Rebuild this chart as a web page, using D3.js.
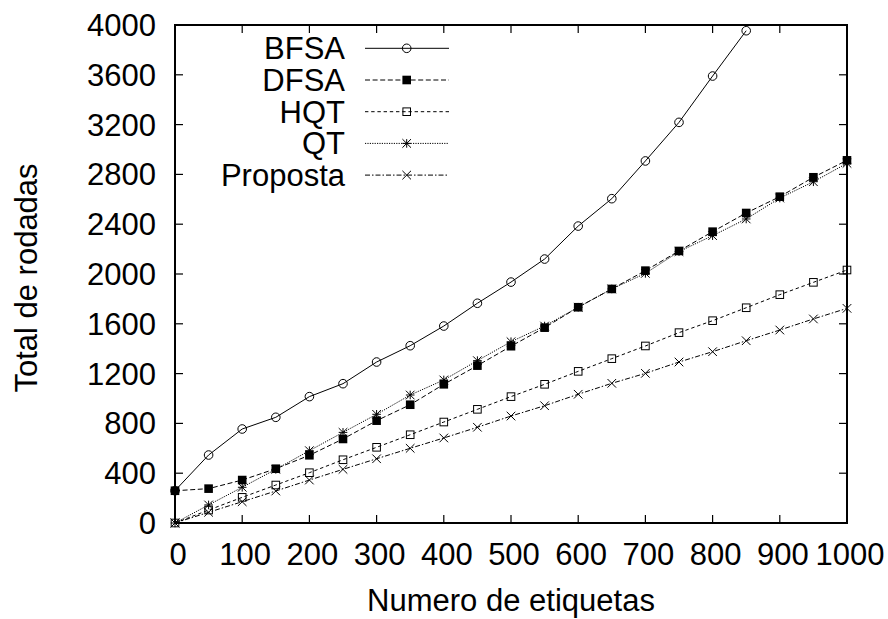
<!DOCTYPE html>
<html>
<head>
<meta charset="utf-8">
<script src="https://cdn.jsdelivr.net/npm/d3@7"></script>
<style>
  body { margin: 0; background: #fff; }
  svg text { font-family: "Liberation Sans", Arial, Helvetica, sans-serif; fill: #000; }
</style>
</head>
<body>
<div class="container"></div>
<script>
// x values (numero de etiquetas)
const etiquetas = [0, 50, 100, 150, 200, 250, 300, 350, 400, 450, 500,
                   550, 600, 650, 700, 750, 800, 850, 900, 950, 1000];

const bfsa = [260, 546, 755, 849, 1015, 1119, 1293, 1424, 1582, 1765, 1935,
              2120, 2385, 2605, 2908, 3218, 3590, 3954];
const dfsa = [259, 276, 345, 436, 544, 675, 822, 950, 1114, 1264, 1420,
              1569, 1733, 1880, 2027, 2185, 2340, 2490, 2621, 2777, 2913];
const hqt = [0, 104, 206, 305, 404, 508, 608, 709, 811, 913, 1015,
             1114, 1218, 1320, 1422, 1529, 1625, 1729, 1834, 1933, 2032];
const qt = [0, 145, 287, 431, 581, 728, 873, 1028, 1149, 1304, 1456,
            1582, 1733, 1880, 2005, 2180, 2308, 2442, 2610, 2741, 2889];
const proposta = [0, 86, 171, 257, 345, 431, 516, 600, 683, 769, 859,
                  942, 1034, 1122, 1202, 1293, 1376, 1464, 1550, 1639, 1724];

const xTicks = [0, 100, 200, 300, 400, 500, 600, 700, 800, 900, 1000];
const yTicks = [0, 400, 800, 1200, 1600, 2000, 2400, 2800, 3200, 3600, 4000];

const series = [
  {name: 'BFSA', values: bfsa, dash: null, marker: 'circle'},
  {name: 'DFSA', values: dfsa, dash: '5,2.6', marker: 'fsquare'},
  {name: 'HQT', values: hqt, dash: '3.4,2.8', marker: 'osquare'},
  {name: 'QT', values: qt, dash: '1.2,1.2', marker: 'star'},
  {name: 'Proposta', values: proposta, dash: '5,2,1.5,2', marker: 'cross'}
];

const width = 888, height = 619;
const pLeft = 175, pRight = 847, pTop = 25, pBottom = 523;
const fontSize = 31;

const svg = d3.select('.container').append('svg')
        .attr('width', width)
        .attr('height', height);

const x = d3.scaleLinear().domain([0, 1000]).range([pLeft, pRight]);
const y = d3.scaleLinear().domain([0, 4000]).range([pBottom, pTop]);

const tick = 8;

// ticks (inward, mirrored on top and right)
const axes = svg.append('g').attr('stroke', '#000').attr('stroke-width', 1.2);
xTicks.forEach(t => {
  axes.append('line').attr('x1', x(t)).attr('x2', x(t)).attr('y1', pBottom).attr('y2', pBottom - tick);
  axes.append('line').attr('x1', x(t)).attr('x2', x(t)).attr('y1', pTop).attr('y2', pTop + tick);
});
yTicks.forEach(t => {
  axes.append('line').attr('x1', pLeft).attr('x2', pLeft + tick).attr('y1', y(t)).attr('y2', y(t));
  axes.append('line').attr('x1', pRight).attr('x2', pRight - tick).attr('y1', y(t)).attr('y2', y(t));
});

// tick labels
svg.append('g').selectAll('text')
  .data(xTicks)
  .enter()
  .append('text')
  .attr('x', d => x(d) + 3)
  .attr('y', 565)
  .attr('text-anchor', 'middle')
  .attr('font-size', fontSize)
  .text(d => d);

svg.append('g').selectAll('text')
  .data(yTicks)
  .enter()
  .append('text')
  .attr('x', 156)
  .attr('y', d => y(d) + 11)
  .attr('text-anchor', 'end')
  .attr('font-size', fontSize)
  .text(d => d);

// axis titles
svg.append('text')
  .attr('x', (pLeft + pRight) / 2)
  .attr('y', 611)
  .attr('text-anchor', 'middle')
  .attr('font-size', fontSize)
  .text('Numero de etiquetas');

svg.append('text')
  .attr('transform', 'translate(37,' + ((pTop + pBottom) / 2 + 4) + ') rotate(-90)')
  .attr('text-anchor', 'middle')
  .attr('font-size', fontSize)
  .text('Total de rodadas');

// markers
function drawMarker(g, type, cx, cy) {
  const s = 4.3;
  if (type === 'circle') {
    g.append('circle').attr('cx', cx).attr('cy', cy).attr('r', s)
      .attr('fill', 'none').attr('stroke', '#000').attr('stroke-width', 1);
  } else if (type === 'fsquare') {
    g.append('rect').attr('x', cx - s).attr('y', cy - s).attr('width', 2 * s).attr('height', 2 * s)
      .attr('fill', '#000');
  } else if (type === 'osquare') {
    g.append('rect').attr('x', cx - s + 0.5).attr('y', cy - s + 0.5).attr('width', 2 * s - 1).attr('height', 2 * s - 1)
      .attr('fill', 'none').attr('stroke', '#000').attr('stroke-width', 1);
  } else if (type === 'star') {
    const p = d3.path();
    p.moveTo(cx - s, cy); p.lineTo(cx + s, cy);
    p.moveTo(cx, cy - s); p.lineTo(cx, cy + s);
    p.moveTo(cx - s, cy - s); p.lineTo(cx + s, cy + s);
    p.moveTo(cx - s, cy + s); p.lineTo(cx + s, cy - s);
    g.append('path').attr('d', p.toString()).attr('stroke', '#000').attr('stroke-width', 1).attr('fill', 'none');
  } else if (type === 'cross') {
    const p = d3.path();
    p.moveTo(cx - s, cy - s); p.lineTo(cx + s, cy + s);
    p.moveTo(cx - s, cy + s); p.lineTo(cx + s, cy - s);
    g.append('path').attr('d', p.toString()).attr('stroke', '#000').attr('stroke-width', 1).attr('fill', 'none');
  }
}

const line = d3.line()
  .x((d, i) => x(etiquetas[i]))
  .y(d => y(d));

// series
series.forEach(s => {
  const g = svg.append('g').attr('class', 'series');
  g.append('path')
    .datum(s.values)
    .attr('d', line)
    .attr('fill', 'none')
    .attr('stroke', '#000')
    .attr('stroke-width', 1)
    .attr('stroke-dasharray', s.dash);
  s.values.forEach((v, i) => drawMarker(g, s.marker, x(etiquetas[i]), y(v)));
});

// legend
const legend = svg.append('g').attr('id', 'legend');
series.forEach((s, i) => {
  const ly = 48.3 + i * 31.7;
  legend.append('text')
    .attr('x', 345)
    .attr('y', ly + 11)
    .attr('text-anchor', 'end')
    .attr('font-size', fontSize)
    .text(s.name);
  legend.append('line')
    .attr('x1', 365).attr('x2', 449)
    .attr('y1', ly).attr('y2', ly)
    .attr('stroke', '#000')
    .attr('stroke-width', 1)
    .attr('stroke-dasharray', s.dash);
  drawMarker(legend, s.marker, 406.7, ly);
});

// border
svg.append('rect')
  .attr('x', pLeft).attr('y', pTop)
  .attr('width', pRight - pLeft).attr('height', pBottom - pTop)
  .attr('fill', 'none')
  .attr('stroke', '#000')
  .attr('stroke-width', 2);
</script>
</body>
</html>
